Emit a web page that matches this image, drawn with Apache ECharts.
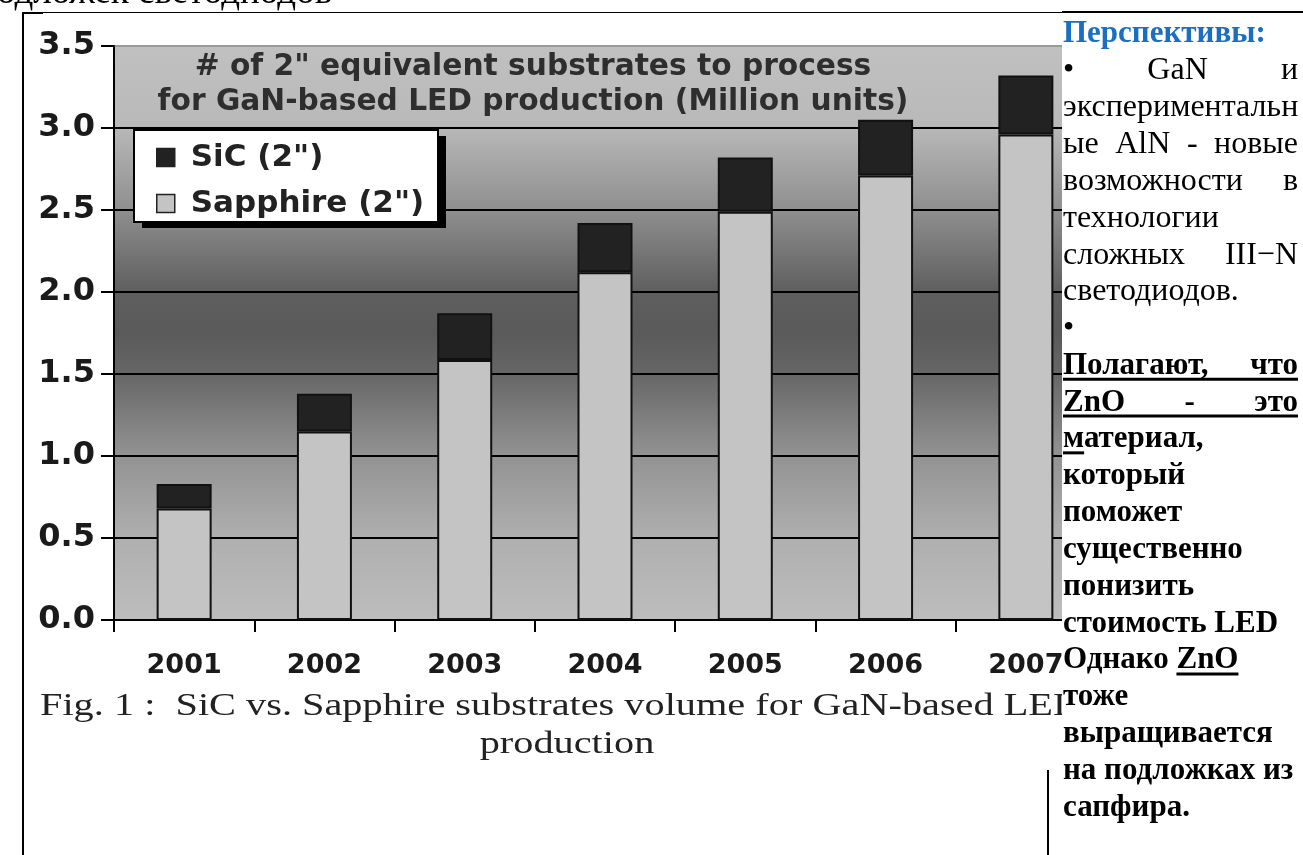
<!DOCTYPE html>
<html><head><meta charset="utf-8">
<script src="https://cdn.jsdelivr.net/npm/echarts@6/dist/echarts.min.js"></script>
<style>html,body{margin:0;padding:0;background:#fff;overflow:hidden}#c{width:1303px;height:855px}</style>
</head><body><div id="c"></div>
<script>
// ---- data ----
const categories = ['2001', '2002', '2003', '2004', '2005', '2006', '2007'];
const sapphireValues = [0.68, 1.15, 1.585, 2.12, 2.49, 2.71, 2.96];
const sicValues = [0.15, 0.23, 0.285, 0.30, 0.33, 0.34, 0.36];
const yMin = 0, yMax = 3.5, yStep = 0.5;
const seriesNames = ['SiC (2")', 'Sapphire (2")'];
const chartTitleLines = ['# of 2" equivalent substrates to process', 'for GaN-based LED production (Million units)'];
const captionLines = ['Fig. 1 :  SiC vs. Sapphire substrates volume for GaN-based LED', 'production'];
const headingText = 'одложек светодиодов';
const panelLines = [
  {words: ['Перспективы:'], bold: true, color: '#1a6fc2'},
  {words: ['•', 'GaN', 'и'], justify: true},
  {words: ['экспериментальн']},
  {words: ['ые', 'AlN', '-', 'новые'], justify: true},
  {words: ['возможности', 'в'], justify: true},
  {words: ['технологии']},
  {words: ['сложных', 'III−N'], justify: true},
  {words: ['светодиодов.']},
  {words: ['•']},
  {words: ['Полагают,', 'что'], justify: true, bold: true, underline: 'all'},
  {words: ['ZnO', '-', 'это'], justify: true, bold: true, underline: 'all'},
  {words: ['материал,'], bold: true, underlinePrefix: 'м'},
  {words: ['который'], bold: true},
  {words: ['поможет'], bold: true},
  {words: ['существенно'], bold: true},
  {words: ['понизить'], bold: true},
  {words: ['стоимость', 'LED'], bold: true},
  {words: ['Однако', 'ZnO'], bold: true, underlineWord: 1},
  {words: ['тоже'], bold: true},
  {words: ['выращивается'], bold: true},
  {words: ['на', 'подложках', 'из'], bold: true},
  {words: ['сапфира.'], bold: true}
];

// ---- layout helpers ----
const SANS = 'DejaVu Sans';
const SERIF = 'Liberation Serif';
const mctx = document.createElement('canvas').getContext('2d');
function measure(t, font) { mctx.font = font; return mctx.measureText(t).width; }

const graphics = [];
// frame lines
graphics.push({type: 'rect', z: 120, shape: {x: 22, y: 12, width: 2, height: 843}, style: {fill: '#000'}});
graphics.push({type: 'rect', z: 120, shape: {x: 22, y: 12, width: 21, height: 2}, style: {fill: '#000'}});
graphics.push({type: 'rect', z: 120, shape: {x: 22, y: 12, width: 1040, height: 1}, style: {fill: '#000'}});
graphics.push({type: 'rect', z: 100, shape: {x: 1062, y: 13, width: 241, height: 842}, style: {fill: '#fff'}});
graphics.push({type: 'rect', z: 120, shape: {x: 1062, y: 11, width: 241, height: 2}, style: {fill: '#000'}});
graphics.push({type: 'rect', z: 120, shape: {x: 1047, y: 770, width: 2, height: 85}, style: {fill: '#000'}});

// legend box with drop shadow (legend itself is transparent)
graphics.push({type: 'rect', z: 3, shape: {x: 142, y: 136, width: 304, height: 92}, style: {fill: '#000'}});
graphics.push({type: 'rect', z: 3, shape: {x: 134, y: 130, width: 304, height: 92}, style: {fill: '#fff', stroke: '#000', lineWidth: 2}});

// heading (cut at the top)
graphics.push({type: 'text', z: 120, x: -3, y: -7,
  style: {text: headingText, font: '37px "' + SERIF + '"', fill: '#000', align: 'left', textAlign: 'left', verticalAlign: 'middle', textVerticalAlign: 'middle'}});

// chart title inside plot
chartTitleLines.forEach((t, i) => {
  graphics.push({type: 'text', z: 10, x: 533, y: 67 + i * 35,
    style: {text: t, font: 'bold 29.7px "' + SANS + '"', fill: '#2e2e2e', align: 'center', textAlign: 'center', verticalAlign: 'middle', textVerticalAlign: 'middle'}});
});

// caption (stretched like the scanned figure)
graphics.push({type: 'text', z: 50, x: 40, y: 707, scaleX: 1.3,
  style: {text: captionLines[0], font: '31px "' + SERIF + '"', fill: '#222', align: 'left', textAlign: 'left', verticalAlign: 'middle', textVerticalAlign: 'middle'}});
graphics.push({type: 'text', z: 50, x: 567, y: 745, scaleX: 1.3,
  style: {text: captionLines[1], font: '31px "' + SERIF + '"', fill: '#222', align: 'center', textAlign: 'center', verticalAlign: 'middle', textVerticalAlign: 'middle'}});

// right text panel
const PX0 = 1063, PX1 = 1298;
panelLines.forEach((ln, i) => {
  const y = 34 + i * 36.85;
  const font = (ln.bold ? 'bold 31px "' : '32px "') + SERIF + '"';
  const widths = ln.words.map(w => measure(w, font));
  const xs = [];
  if (ln.justify && ln.words.length > 1) {
    const total = widths.reduce((a, b) => a + b, 0);
    const gap = (PX1 - PX0 - total) / (ln.words.length - 1);
    let x = PX0; widths.forEach(w => { xs.push(x); x += w + gap; });
  } else {
    const sp = measure(' ', font);
    let x = PX0; widths.forEach(w => { xs.push(x); x += w + sp; });
  }
  ln.words.forEach((w, k) => {
    graphics.push({type: 'text', z: 110, x: xs[k], y: y,
      style: {text: w, font: font, fill: ln.color || '#000', align: 'left', textAlign: 'left', verticalAlign: 'middle', textVerticalAlign: 'middle'}});
  });
  const uy = y + 12;
  if (ln.underline === 'all') {
    graphics.push({type: 'rect', z: 110, shape: {x: PX0, y: uy, width: PX1 - PX0, height: 3}, style: {fill: '#000'}});
  }
  if (ln.underlinePrefix) {
    graphics.push({type: 'rect', z: 110, shape: {x: PX0, y: uy, width: measure(ln.underlinePrefix, font), height: 3}, style: {fill: '#000'}});
  }
  if (ln.underlineWord !== undefined) {
    const k = ln.underlineWord;
    graphics.push({type: 'rect', z: 110, shape: {x: xs[k], y: uy, width: widths[k], height: 3}, style: {fill: '#000'}});
  }
});

const bg = new echarts.graphic.LinearGradient(0, 0, 0, 1, [
  {offset: 0, color: '#c0c0c0'},
  {offset: 0.14, color: '#b9b9b9'},
  {offset: 0.285, color: '#8f8f8f'},
  {offset: 0.43, color: '#5e5e5e'},
  {offset: 0.50, color: '#5a5a5a'},
  {offset: 0.57, color: '#666666'},
  {offset: 0.715, color: '#939393'},
  {offset: 0.857, color: '#afafaf'},
  {offset: 1, color: '#bdbdbd'}
]);

const chart = echarts.init(document.getElementById('c'), null, {renderer: 'canvas'});
chart.setOption({
  animation: false,
  backgroundColor: '#fff',
  grid: {left: 114, top: 46, width: 982, height: 574, show: true, backgroundColor: bg, borderWidth: 0, containLabel: false},
  legend: {
    orient: 'vertical', left: 134, top: 130, z: 5,
    data: seriesNames,
    backgroundColor: 'transparent', borderWidth: 0,
    padding: [12, 16, 7, 22], itemGap: 15, itemWidth: 18, itemHeight: 18,
    icon: 'rect',
    itemStyle: {borderColor: '#222', borderWidth: 1.5},
    textStyle: {fontFamily: SANS, fontWeight: 'bold', fontSize: 31, color: '#222', lineHeight: 30, padding: [0, 0, 0, 11]}
  },
  xAxis: {
    type: 'category', data: categories, boundaryGap: true,
    axisLine: {show: true, lineStyle: {color: '#000', width: 2}},
    axisTick: {show: true, alignWithLabel: false, length: 12, lineStyle: {color: '#000', width: 2}},
    axisLabel: {margin: 32, fontFamily: SANS, fontWeight: 'bold', fontSize: 27, color: '#1a1a1a'},
    splitLine: {show: false}
  },
  yAxis: {
    type: 'value', min: yMin, max: yMax, interval: yStep,
    axisLine: {show: true, lineStyle: {color: '#000', width: 2}},
    axisTick: {show: true, length: 13, lineStyle: {color: '#000', width: 2}},
    axisLabel: {margin: 19, fontFamily: SANS, fontWeight: 'bold', fontSize: 32, color: '#1a1a1a', formatter: v => v.toFixed(1)},
    splitLine: {show: true, lineStyle: {color: ['#000', '#000', '#000', '#000', '#000', '#000', '#000', '#9a9a9a'], width: 2}}
  },
  series: [
    {name: seriesNames[1], type: 'bar', stack: 'total', data: sapphireValues, barWidth: 55,
      itemStyle: {color: '#c4c4c4', borderColor: '#111', borderWidth: 2}},
    {name: seriesNames[0], type: 'bar', stack: 'total', data: sicValues, barWidth: 55,
      itemStyle: {color: '#222222', borderColor: '#111', borderWidth: 2}}
  ],
  graphic: {elements: graphics}
});
</script>
</body></html>
